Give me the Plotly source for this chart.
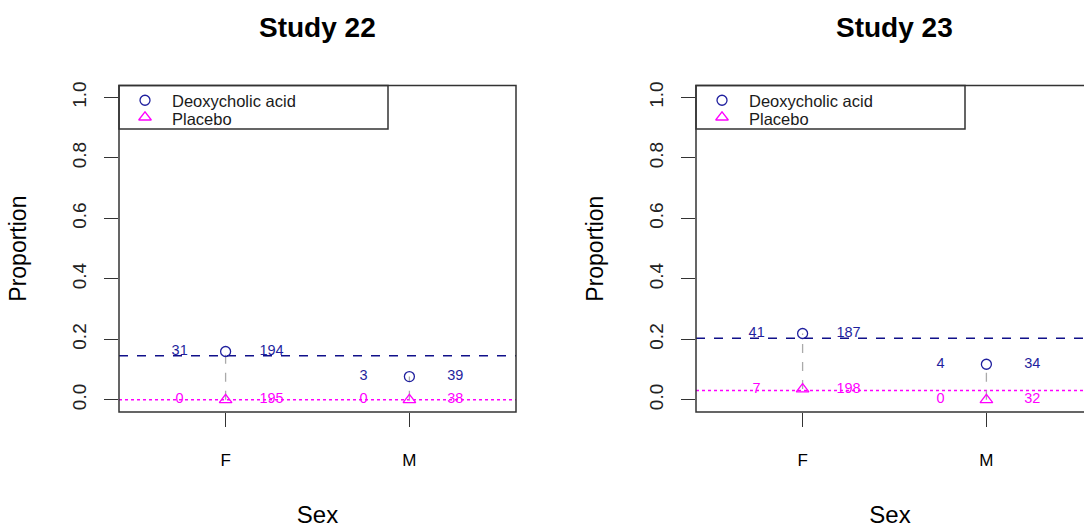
import plotly.graph_objects as go

# ---- data ----
studies = ["Study 22", "Study 23"]
sex_categories = ["F", "M"]
deox_events = [[31, 3], [41, 4]]
deox_n = [[194, 39], [187, 34]]
plac_events = [[0, 0], [7, 0]]
plac_n = [[195, 38], [198, 32]]
y_ticks = [0.0, 0.2, 0.4, 0.6, 0.8, 1.0]
legend_labels = ["Deoxycholic acid", "Placebo"]

DEOX_COLOR = "#1f1f9e"
DEOX_LINE = "#10108a"
PLAC_COLOR = "#ff00ff"
FONT = "Liberation Sans, Arial, sans-serif"

W, H = 1084, 531
px_per_unit = 397 / 2.16
left_px = [119, 696]
box_w = 397
box_top, box_bot = 82, 411
leg_w, leg_h = 269, 44

fig = go.Figure()
xpos = [1, 2]

for i, study in enumerate(studies):
    xa = "x" if i == 0 else "x2"
    ya = "y" if i == 0 else "y2"
    dp = [e / n for e, n in zip(deox_events[i], deox_n[i])]
    pp = [e / n for e, n in zip(plac_events[i], plac_n[i])]
    dmean = sum(deox_events[i]) / sum(deox_n[i])
    pmean = sum(plac_events[i]) / sum(plac_n[i])

    # pooled mean lines
    fig.add_shape(type="line", xref=f"{xa} domain", yref=ya, x0=0, x1=1, y0=dmean, y1=dmean,
                  line=dict(color=DEOX_LINE, width=1.5, dash="dash"), layer="below")
    fig.add_shape(type="line", xref=f"{xa} domain", yref=ya, x0=0, x1=1, y0=pmean, y1=pmean,
                  line=dict(color=PLAC_COLOR, width=1.5, dash="dot"), layer="below")

    # gray connectors
    cx, cy = [], []
    for k in range(len(xpos)):
        cx += [xpos[k], xpos[k], None]
        cy += [pp[k], dp[k], None]
    fig.add_trace(go.Scatter(x=cx, y=cy, mode="lines", xaxis=xa, yaxis=ya,
                             line=dict(color="#aaaaaa", width=1.3, dash="dash"),
                             showlegend=False, hoverinfo="skip"))

    fig.add_trace(go.Scatter(x=xpos, y=dp, mode="markers", xaxis=xa, yaxis=ya,
                             name=legend_labels[0], showlegend=False,
                             marker=dict(symbol="circle-open", size=10, color=DEOX_COLOR,
                                         line=dict(width=1.3, color=DEOX_COLOR))))
    fig.add_trace(go.Scatter(x=xpos, y=pp, mode="markers", xaxis=xa, yaxis=ya,
                             name=legend_labels[1], showlegend=False,
                             marker=dict(symbol="triangle-up-open", size=11, color=PLAC_COLOR,
                                         line=dict(width=1.3, color=PLAC_COLOR))))

    # count labels
    fig.add_trace(go.Scatter(x=[x - 0.25 for x in xpos] + [x + 0.25 for x in xpos],
                             y=dp + dp, mode="text", xaxis=xa, yaxis=ya,
                             text=[str(v) for v in deox_events[i]] + [str(v) for v in deox_n[i]],
                             textfont=dict(color=DEOX_COLOR, size=14.5, family=FONT),
                             showlegend=False, hoverinfo="skip"))
    fig.add_trace(go.Scatter(x=[x - 0.25 for x in xpos] + [x + 0.25 for x in xpos],
                             y=pp + pp, mode="text", xaxis=xa, yaxis=ya,
                             text=[str(v) for v in plac_events[i]] + [str(v) for v in plac_n[i]],
                             textfont=dict(color=PLAC_COLOR, size=14.5, family=FONT),
                             showlegend=False, hoverinfo="skip"))

    # plot box
    fig.add_shape(type="rect", xref="paper", yref="paper",
                  x0=left_px[i] / W, x1=(left_px[i] + box_w) / W,
                  y0=1 - box_bot / H, y1=1 - box_top / H,
                  line=dict(color="#333333", width=1.5))
    # legend box
    fig.add_shape(type="rect", xref="paper", yref="paper",
                  x0=left_px[i] / W, x1=(left_px[i] + leg_w) / W,
                  y0=1 - (box_top + leg_h) / H, y1=1 - box_top / H,
                  line=dict(color="#333333", width=1.5), layer="above")
    # legend key symbols (in legend's own frame)
    lx = "x3" if i == 0 else "x4"
    ly = "y3" if i == 0 else "y4"
    fig.add_trace(go.Scatter(x=[0.0967], y=[0.66], mode="markers", xaxis=lx, yaxis=ly,
                             showlegend=False, hoverinfo="skip",
                             marker=dict(symbol="circle-open", size=10, color=DEOX_COLOR,
                                         line=dict(width=1.3, color=DEOX_COLOR))))
    fig.add_trace(go.Scatter(x=[0.0967], y=[0.27], mode="markers", xaxis=lx, yaxis=ly,
                             showlegend=False, hoverinfo="skip",
                             marker=dict(symbol="triangle-up-open", size=11, color=PLAC_COLOR,
                                         line=dict(width=1.3, color=PLAC_COLOR))))
    for j, (lab, yc) in enumerate(zip(legend_labels, [97.5, 116])):
        fig.add_annotation(text=lab, xref="paper", yref="paper",
                           x=(left_px[i] + 51) / W, y=1 - yc / H, xanchor="left",
                           yanchor="middle", showarrow=False,
                           font=dict(size=16.5, family=FONT, color="#1a1a1a"))
    # title
    fig.add_annotation(text=f"<b>{study}</b>", xref="paper", yref="paper",
                       x=(left_px[i] + box_w / 2) / W, y=1 - 24 / H,
                       showarrow=False, font=dict(size=28, family=FONT, color="black"),
                       xanchor="center", yanchor="middle")

axis_common_x = dict(tickvals=xpos, ticktext=sex_categories, ticks="outside", ticklen=14,
                     tickcolor="#333333", tickwidth=1.3, showgrid=False, zeroline=False,
                     showline=False, ticklabelstandoff=19,
                     tickfont=dict(size=17, family=FONT, color="black"),
                     title=dict(text="Sex", font=dict(size=24, family=FONT, color="black"),
                                standoff=36))
axis_common_y = dict(tickvals=y_ticks, ticktext=[f"{v:.1f}" for v in y_ticks], ticks="outside",
                     ticklen=14, tickcolor="#333333", tickwidth=1.3, showgrid=False,
                     zeroline=False, showline=False, tickangle=-90, range=[-0.04, 1.04],
                     ticklabelstandoff=10,
                     tickfont=dict(size=19, family=FONT, color="#222222"),
                     title=dict(text="Proportion", font=dict(size=23, family=FONT, color="black"),
                                standoff=36))
hidden = dict(visible=False, range=[0, 1], fixedrange=True)

right_range_max = 0.42 + (W - left_px[1]) / px_per_unit
leg_dom_y = [1 - (box_top + leg_h) / H, 1 - box_top / H]

fig.update_layout(
    width=W, height=H, margin=dict(l=0, r=0, t=0, b=0),
    plot_bgcolor="rgba(0,0,0,0)", paper_bgcolor="white",
    font=dict(family=FONT), showlegend=False,
    xaxis=dict(domain=[left_px[0] / W, (left_px[0] + box_w) / W], range=[0.42, 2.58],
               anchor="y", **axis_common_x),
    yaxis=dict(domain=[1 - box_bot / H, 1 - box_top / H], anchor="x", **axis_common_y),
    xaxis2=dict(domain=[left_px[1] / W, 1.0], range=[0.42, right_range_max],
                anchor="y2", **axis_common_x),
    yaxis2=dict(domain=[1 - box_bot / H, 1 - box_top / H], anchor="x2", **axis_common_y),
    xaxis3=dict(domain=[left_px[0] / W, (left_px[0] + leg_w) / W], anchor="y3", **hidden),
    yaxis3=dict(domain=leg_dom_y, anchor="x3", **hidden),
    xaxis4=dict(domain=[left_px[1] / W, (left_px[1] + leg_w) / W], anchor="y4", **hidden),
    yaxis4=dict(domain=leg_dom_y, anchor="x4", **hidden),
)

fig.write_html("out.html")
